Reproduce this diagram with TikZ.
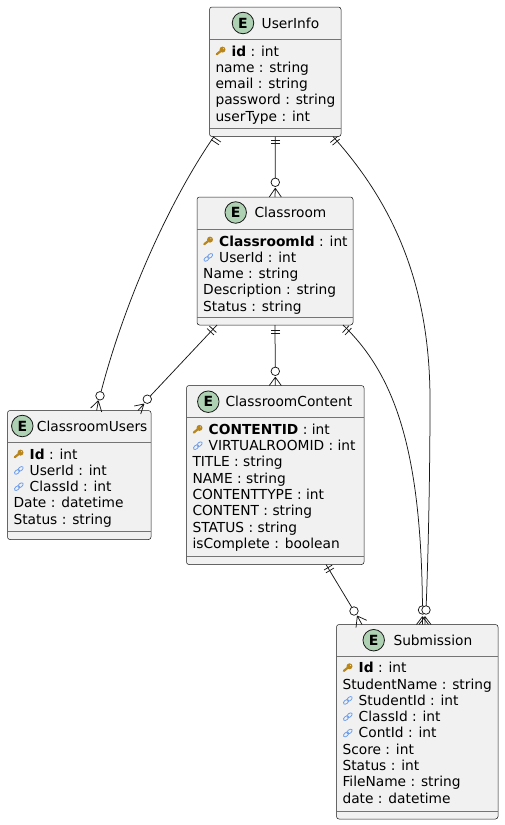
\documentclass[tikz,border=0pt]{standalone}
\usepackage{fontspec}
\setmainfont{DejaVu Sans}
\usetikzlibrary{calc}
\definecolor{boxfill}{HTML}{F1F1F1}
\definecolor{ink}{HTML}{181818}
\definecolor{egreen}{HTML}{ADD1B2}
\definecolor{keycol}{HTML}{B8861B}
\definecolor{linkcol}{HTML}{6F9FEA}
\tikzset{
  entitybox/.style={draw=ink,line width=.5pt,fill=boxfill,rounded corners=2.5pt,anchor=north west,inner sep=0pt,outer sep=0pt},
  divider/.style={draw=ink!60,line width=.8pt},
  ebadge/.style={circle,draw=ink,line width=.8pt,fill=egreen,minimum size=21.5pt,inner sep=0pt,font=\fontsize{14}{14}\selectfont\bfseries},
  titletext/.style={anchor=base west,inner sep=0pt,font=\fontsize{13.78}{16}\selectfont,text=black},
  rowtext/.style={anchor=base west,inner sep=0pt,font=\fontsize{13.78}{16}\selectfont,text=black},
  conn/.style={draw=ink,line width=.75pt},
  ergo/.style={circle,draw=ink,line width=.75pt,fill=white,minimum size=8.5pt,inner sep=0pt,outer sep=0pt},
}
% name, x, y, w, h, first divider offset, second divider offset
\newcommand\entitybox[7]{%
  \node[entitybox,minimum width=#4pt,minimum height=#5pt] (#1) at (#2,#3) {};
  \draw[divider] ($(#1.north west)+(0,#6)$) -- ($(#1.north east)+(0,#6)$);
  \draw[divider] ($(#1.north west)+(0,#7)$) -- ($(#1.north east)+(0,#7)$);
}
\newcommand\rowlabel[4]{\node[rowtext] (#1) at (#2,#3) {#4};}
\newcommand\keymark[2]{%
  \draw[keycol,line width=2.2pt,line cap=round] (#1+7.3,#2-1.8) -- (#1+12.5,#2-6);
  \fill[keycol] (#1+13,#2-6.4) circle (3);
  \fill[boxfill] (#1+13.9,#2-7.3) circle (.55);
}
\newcommand\linkmark[2]{%
  \begin{scope}[shift={(#1+11.3,#2-4.9)},rotate=40]
    \draw[linkcol,line width=.8pt] (-2.3,0) ellipse [x radius=3,y radius=1.8];
    \draw[linkcol,line width=.8pt] (2.3,0) ellipse [x radius=3,y radius=1.8];
  \end{scope}
}
\newcommand\barmark[3]{%
  \begin{scope}[shift={(#1,#2)},rotate=#3]
    \draw[conn] (-1.7,-4.7) -- (-1.7,4.7) (1.7,-4.7) -- (1.7,4.7);
  \end{scope}
}
\begin{document}
\begin{tikzpicture}[x=1pt,y=-1pt]
\useasboundingbox (0,0) rectangle (504,825);
\fill[white] (0,0) rectangle (504,825);

% ---------- UserInfo
\entitybox{userinfo}{209.5}{7}{131.5}{129.5}{32}{121}
\node[ebadge] (userinfoE) at (243,23) {E};
\node[titletext] (userinfoT) at (261.5,28) {UserInfo};
\keymark{209.5}{56}
\rowlabel{ua}{231.5}{56}{\textbf{id} : int}
\rowlabel{ub}{215.3}{72.3}{name : string}
\rowlabel{uc}{215.3}{88.6}{email : string}
\rowlabel{ud}{215.3}{104.9}{password : string}
\rowlabel{ue}{215.3}{121.2}{userType : int}

% ---------- Classroom
\entitybox{classroom}{197}{197}{156}{128}{32}{120}
\node[ebadge] (classroomE) at (235.7,212.5) {E};
\node[titletext] (classroomT) at (254.3,217.5) {Classroom};
\keymark{197}{246}
\rowlabel{ca}{219}{246}{\textbf{ClassroomId} : int}
\linkmark{197}{262.3}
\rowlabel{cb}{219}{262.3}{UserId : int}
\rowlabel{cc}{203}{278.6}{Name : string}
\rowlabel{cd}{203}{294.9}{Description : string}
\rowlabel{ce}{203}{311.2}{Status : string}

% ---------- ClassroomUsers
\entitybox{cusers}{7.5}{410.5}{143.5}{129}{32}{120.5}
\node[ebadge] (cusersE) at (22.3,426) {E};
\node[titletext] (cusersT) at (36.7,431) {ClassroomUsers};
\keymark{7.5}{459}
\rowlabel{ra}{29.5}{459}{\textbf{Id} : int}
\linkmark{7.5}{475.3}
\rowlabel{rb}{29.5}{475.3}{UserId : int}
\linkmark{7.5}{491.6}
\rowlabel{rc}{29.5}{491.6}{ClassId : int}
\rowlabel{rd}{13.3}{507.9}{Date : datetime}
\rowlabel{re}{13.3}{524.2}{Status : string}

% ---------- ClassroomContent
\entitybox{content}{186.5}{385.5}{177.5}{179}{32}{171.2}
\node[ebadge] (contentE) at (208.3,401.7) {E};
\node[titletext] (contentT) at (225.3,406.7) {ClassroomContent};
\keymark{186.5}{434.3}
\rowlabel{na}{208.5}{434.3}{\textbf{CONTENTID} : int}
\linkmark{186.5}{450.6}
\rowlabel{nb}{208.5}{450.6}{VIRTUALROOMID : int}
\rowlabel{nc}{192.3}{466.9}{TITLE : string}
\rowlabel{nd}{192.3}{483.2}{NAME : string}
\rowlabel{ne}{192.3}{499.5}{CONTENTTYPE : int}
\rowlabel{nf}{192.3}{515.8}{CONTENT : string}
\rowlabel{ng}{192.3}{532.1}{STATUS : string}
\rowlabel{nh}{192.3}{548.4}{isComplete : boolean}

% ---------- Submission
\entitybox{submission}{336.5}{624.5}{161.5}{194.5}{32.2}{186.5}
\node[ebadge] (submissionE) at (373.7,640.2) {E};
\node[titletext] (submissionT) at (393.3,645.2) {Submission};
\keymark{336.5}{672.7}
\rowlabel{sa}{358.5}{672.7}{\textbf{Id} : int}
\rowlabel{sb}{342.3}{689}{StudentName : string}
\linkmark{336.5}{705.3}
\rowlabel{sc}{358.5}{705.3}{StudentId : int}
\linkmark{336.5}{721.6}
\rowlabel{sd}{358.5}{721.6}{ClassId : int}
\linkmark{336.5}{737.9}
\rowlabel{se}{358.5}{737.9}{ContId : int}
\rowlabel{sf}{342.3}{754.2}{Score : int}
\rowlabel{sg}{342.3}{770.5}{Status : int}
\rowlabel{sh}{342.3}{786.8}{FileName : string}
\rowlabel{si}{342.3}{803.1}{date : datetime}

% ---------- connector ends
\node[ergo] (o1) at (275.3,182.3) {};
\node[ergo] (o2) at (100,395.8) {};
\node[ergo] (o3) at (147.3,399.2) {};
\node[ergo] (o4) at (275.3,371.3) {};
\node[ergo] (o5) at (354,611) {};
\node[ergo] (o6) at (422.5,610) {};
\node[ergo] (o7) at (426,610) {};

% UserInfo -- Classroom
\draw[conn] (userinfo.south) -- (o1);
\barmark{275.3}{141.7}{-90}
\draw[conn] (275.3,188.2) -- (269.3,197) (275.3,188.2) -- (classroom.north) (275.3,188.2) -- (281.3,197);

% UserInfo -- ClassroomUsers
\draw[conn] ($(userinfo.south west)+(4.5,0)$) .. controls (170,200) and (125,300) .. (o2);
\barmark{216}{140.8}{236}
\draw[conn] (98.3,400.7) -- (90.7,408) (98.3,400.7) -- (96.7,410.5) (98.3,400.7) -- (101.7,412);

% Classroom -- ClassroomUsers
\draw[conn] ($(classroom.south west)+(20,0)$) -- (o3);
\barmark{211.7}{330.5}{227}
\draw[conn] (144,404) -- (134.3,406) (144,404) -- (138,410.5) (144,404) -- (140.7,414);

% Classroom -- ClassroomContent
\draw[conn] (classroom.south) -- (o4);
\barmark{275.3}{331.7}{-90}
\draw[conn] (275.3,377.2) -- (269.3,385.5) (275.3,377.2) -- (content.north) (275.3,377.2) -- (281.3,385.5);

% ClassroomContent -- Submission
\draw[conn] ($(content.south east)+(-38,0)$) -- (o5);
\barmark{329}{569}{-59}
\draw[conn] (357.3,616) -- (366.7,620.3) (357.3,616) -- (362,624.5) (357.3,616) -- (356,627.7);

% Classroom -- Submission
\draw[conn] ($(classroom.south east)+(-10,0)$) .. controls (395,375) and (421,450) .. (o6);
\barmark{347}{330.3}{-43}

% UserInfo -- Submission
\draw[conn] ($(userinfo.south east)+(-8,0)$) .. controls (390,200) and (430,280) .. (430,400) .. controls (430,480) and (428,560) .. (o7);
\barmark{335}{140.8}{-50}

% Crow feet on Submission
\draw[conn] (422.5,616.6) -- (416.5,624.5) (422.5,616.6) -- (422.5,624.5) (422.5,616.6) -- (428.5,624.5);
\draw[conn] (425,616.6) -- (419,624.5) (425,616.6) -- (425,624.5) (425,616.6) -- (431,624.5);
\end{tikzpicture}
\end{document}
